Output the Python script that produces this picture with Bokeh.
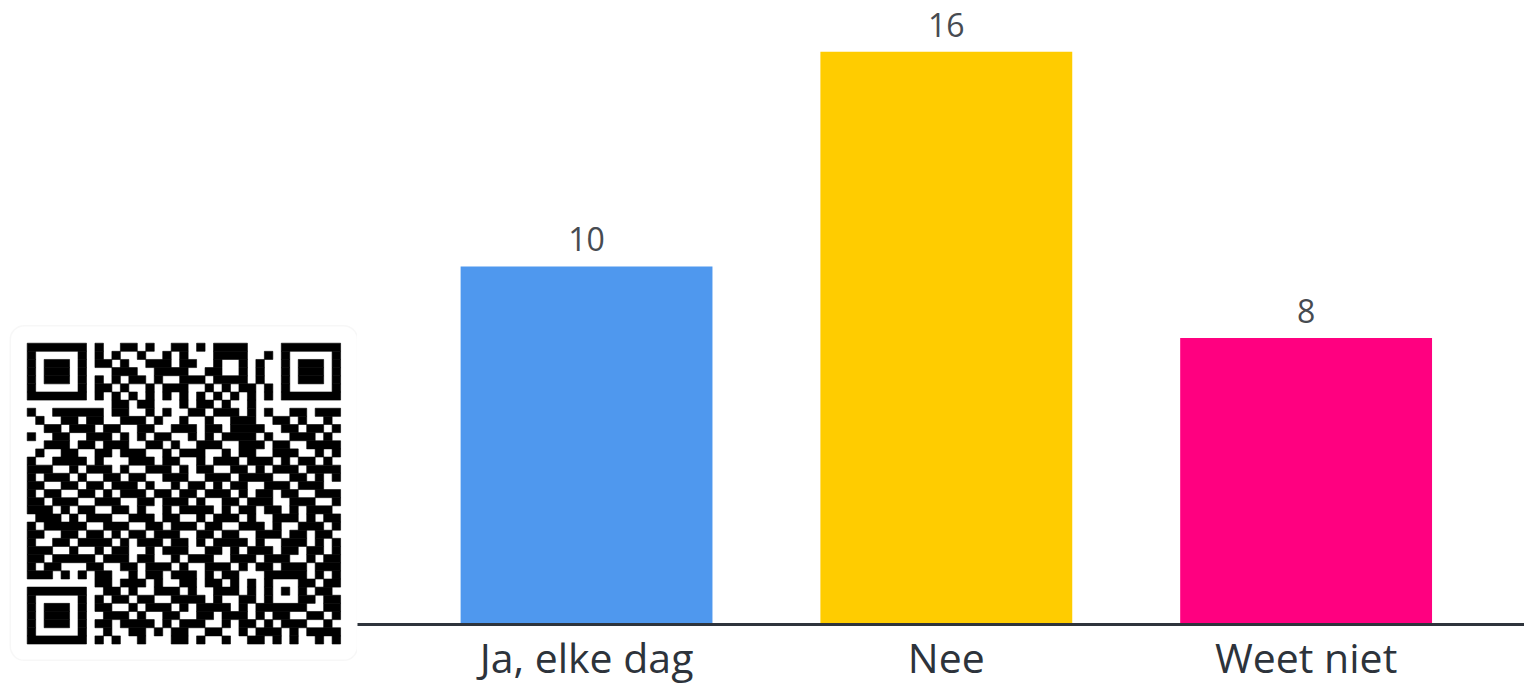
from bokeh.plotting import figure
from bokeh.layouts import row
from bokeh.models import Range1d, FixedTicker, ColumnDataSource, BoxAnnotation
from bokeh.embed import file_html
from bokeh.resources import INLINE
from bokeh.core.properties import value

# ---------------- data ----------------
CATEGORIES = ["Ja, elke dag", "Nee", "Weet niet"]
COUNTS = [10, 16, 8]
BAR_COLORS = ["#4f98ee", "#ffcc00", "#ff0080"]

# QR code modules ('#' = dark), 37 x 37
QR_ROWS = [
    "#######." "#..##.#..##.#.####..." "." "#######",
    "#.....#." "#.#..#..#.#...####..#" "." "#.....#",
    "#.###.#." "##.#..###.##..#..#.#." "." "#.###.#",
    "#.###.#." "..###..####..##..#.#." "." "#.###.#",
    "#.###.#." "#.#.##.#..###.####.#." "." "#.###.#",
    "#.....#." "##.#..#.###..#.#.##.#" "." "#.....#",
    "#######." "#.#.#.#.#.#.#.#.#.#.#" "." "#######",
    "........" "..##.##...#.##.#..#.." "........",
    "#..######" ".##..#.#..##.###.#.#..##.###",
    ".#..##.##" "..###.#..#..#..###..##.#..#.",
    "..##.###." "##..##..###.##.####..##.##.#",
    "#..##..##" "#.#.#.##..#.#.####.#..###.#.",
    "..###.##." "###..##.#..###..###.##..####",
    ".#..##..#" "#.###..#.###..#.##..###..#.#",
    "#..####.#" "...###.##..#.###.###.#.##.#.",
    "###..#.##" "#.#..###.#.##..##.#.###.####",
    "#.###.#.." "##.##..###..###.####..##.#.#",
    "##..##.##" ".###.#..#.##.#.##..###.###..",
    "#.##..##." "#.###.##.##.###.#.##.##..###",
    "##.###..#" "##..##.###.#..##.###..###..#",
    "###.#.##." ".##.#..#.####.#.##.##.#.###.",
    ".###.#.##" "#..###.##..#.###.#..###.#.##",
    "#.#####.." "###..##.###.##..###.#..###.#",
    "##..##.##" ".#.##.###..##.##..###.##.##.",
    "#..##.###" "#.#.###.##.#.####.#..###.#.#",
    "###..#..#" ".##..#.###..##.#.###.##.##.#",
    "##.#####." "###.##..#.###..###.###..#.##",
    "#.##...##" "..##.###.#..###.#.##.###.###",
    "###.#.#.#" "#..#.##.###.#.##...#####.#.#",
    "........" "##.###.#..##.##.#.#.#...##.##",
    "#######." ".##.#..###.#..###.#." "#.#.#" ".##.",
    "#.....#." "#.##.##..####.#..##." "#...#" "#.##",
    "#.###.#." "##..#.###.#.####.#.#" "#####" "..##",
    "#.###.#." ".###.#..##..##.###.#.##..##.#",
    "#.###.#." "##.####.#.###..#.##.#.###..#.",
    "#.....#." ".#..##.#.##..##..#.###.#.####",
    "#######." "#.#..#...##.#..#..##.#.#..#.#",
]

# ---------------- QR panel ----------------
N = len(QR_ROWS)
QR_W, QR_H = 357, 687
MOD_W, MOD_H = 8.47, 8.13
QR_LEFT, QR_TOP = 26.7, 342.7
PAD = 2.0

qr = figure(width=QR_W, height=QR_H, output_backend="svg", toolbar_location=None,
            x_range=Range1d(-QR_LEFT / MOD_W, (QR_W - QR_LEFT) / MOD_W),
            y_range=Range1d((QR_H - QR_TOP) / MOD_H, -QR_TOP / MOD_H),
            x_axis_location=None, y_axis_location=None, min_border=0,
            outline_line_color=None, background_fill_color="white",
            border_fill_color="white", frame_align=False)
qr.xgrid.grid_line_color = None
qr.ygrid.grid_line_color = None

panel = BoxAnnotation(left=-PAD, right=N + PAD, top=-PAD - 0.15, bottom=N + PAD,
                      fill_color="white", fill_alpha=1.0, line_color="#e6e6e6",
                      line_width=1.5, border_radius=14, level="underlay")
qr.add_layout(panel)

lefts, rights, tops, bottoms = [], [], [], []
for r, line in enumerate(QR_ROWS):
    line = line.ljust(N, ".")[:N]
    c = 0
    while c < N:
        if line[c] == "#":
            start = c
            while c < N and line[c] == "#":
                c += 1
            lefts.append(start)
            rights.append(c)
            tops.append(r)
            bottoms.append(r + 1)
        else:
            c += 1
qr.quad(left=lefts, right=rights, top=tops, bottom=bottoms,
        fill_color="black", line_color="black", line_width=0.6)

# ---------------- bar chart ----------------
xs = [i + 0.5 for i in range(len(CATEGORIES))]
src = ColumnDataSource(dict(x=xs, count=COUNTS, color=BAR_COLORS,
                            label=[str(v) for v in COUNTS]))

bar = figure(frame_width=1167, frame_height=624, output_backend="svg",
             toolbar_location=None,
             x_range=Range1d(-0.1366, 3.107), y_range=Range1d(0, 17.43),
             y_axis_location=None, min_border=0, outline_line_color=None,
             background_fill_color="white", border_fill_color="white",
             frame_align=False)
bar.xgrid.grid_line_color = None
bar.ygrid.grid_line_color = None

bar.vbar(x="x", top="count", bottom=0, width=0.7, fill_color="color",
         line_color=None, source=src)
bar.text(x="x", y="count", text="label", text_align="center",
         text_baseline="alphabetic", y_offset=-27,
         text_font=value("Open Sans"), text_font_size="32px",
         text_color="#474b51", source=src)

ax = bar.xaxis[0]
ax.ticker = FixedTicker(ticks=xs)
ax.major_label_overrides = {x: c for x, c in zip(xs, CATEGORIES)}
ax.major_label_text_font = "Open Sans"
ax.major_label_text_font_size = "41px"
ax.major_label_text_color = "#2d333b"
ax.major_label_standoff = -2
ax.axis_line_color = "#2e343c"
ax.axis_line_width = 3
ax.major_tick_line_color = None
ax.minor_tick_line_color = None

layout = row(qr, bar)

with open("out.html", "w") as f:
    f.write(file_html(layout, INLINE))
